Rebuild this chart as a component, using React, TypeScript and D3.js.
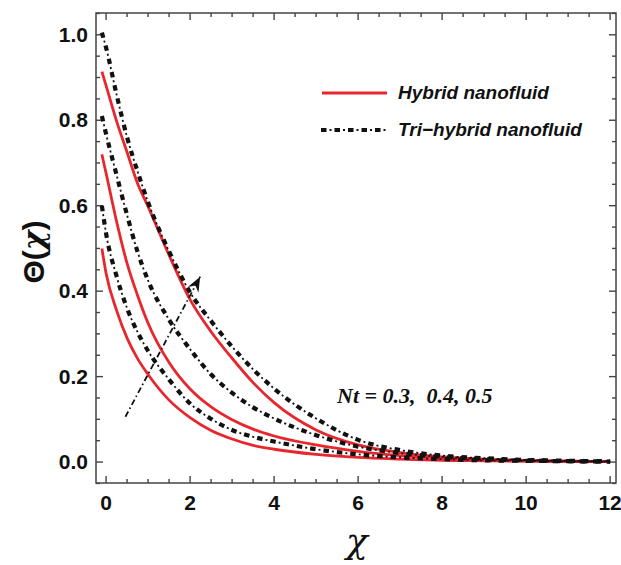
import React from 'react';
import * as d3 from 'd3';

// x positions where the curves were read
const xs = [-0.1, 0, 0.25, 0.5, 0.75, 1, 1.5, 2, 2.5, 3, 3.5, 4, 5, 6, 7, 8, 9, 10, 11, 12];

// Hybrid nanofluid, Nt = 0.3, 0.4, 0.5 (bottom to top)
const hybrid03 = [0.5, 0.442, 0.355, 0.29, 0.242, 0.205, 0.145, 0.104, 0.074, 0.054, 0.039, 0.03, 0.018, 0.011, 0.007, 0.004, 0.003, 0.002, 0.001, 0.001];
const hybrid04 = [0.72, 0.676, 0.563, 0.465, 0.39, 0.325, 0.233, 0.171, 0.129, 0.099, 0.077, 0.061, 0.04, 0.025, 0.015, 0.009, 0.005, 0.003, 0.002, 0.001];
const hybrid05 = [0.914, 0.881, 0.798, 0.725, 0.652, 0.598, 0.484, 0.38, 0.305, 0.243, 0.186, 0.139, 0.075, 0.04, 0.022, 0.012, 0.007, 0.004, 0.002, 0.001];

// Tri-hybrid nanofluid, Nt = 0.3, 0.4, 0.5
const tri03 = [0.6, 0.535, 0.435, 0.36, 0.304, 0.26, 0.193, 0.137, 0.101, 0.075, 0.059, 0.048, 0.03, 0.018, 0.011, 0.007, 0.004, 0.003, 0.002, 0.001];
const tri04 = [0.81, 0.768, 0.672, 0.578, 0.492, 0.425, 0.333, 0.264, 0.205, 0.162, 0.128, 0.102, 0.063, 0.036, 0.021, 0.012, 0.007, 0.004, 0.002, 0.001];
const tri05 = [1.005, 0.97, 0.86, 0.76, 0.68, 0.608, 0.493, 0.397, 0.33, 0.27, 0.217, 0.172, 0.102, 0.052, 0.028, 0.015, 0.009, 0.005, 0.003, 0.002];

const xTicks = [0, 2, 4, 6, 8, 10, 12];
const yTicks = [0, 0.2, 0.4, 0.6, 0.8, 1.0];

// arrow showing increasing Nt (from, to)
const arrowFrom = [0.46, 0.106];
const arrowTo = [2.24, 0.434];

const W = 621;
const H = 565;
const margin = { top: 13, right: 5, bottom: 82, left: 96 };

const RED = '#e8262d';
const INK = '#111';

export default function App() {
  const x = d3.scaleLinear().domain([-0.24, 12.14]).range([margin.left, W - margin.right]);
  const y = d3.scaleLinear().domain([-0.049, 1.051]).range([H - margin.bottom, margin.top]);

  const line = (vals: number[]) =>
    d3.line<number>()
      .x((_, i) => x(xs[i]))
      .y(d => y(d))
      .curve(d3.curveMonotoneX)(vals) || '';

  const x0 = margin.left, x1 = W - margin.right;
  const y0 = H - margin.bottom, y1 = margin.top;

  const xMinor = d3.range(0, 12.01, 0.5);
  const yMinor = d3.range(-0.05, 1.051, 0.05).map(v => Math.round(v * 100) / 100);

  // thick dash + small dot, like Mathematica's DotDashed
  const triDash = (d: string, key: string) => (
    <g key={key}>
      <path d={d} fill="none" stroke={INK} strokeWidth={4.2} strokeDasharray="5.5 8" />
      <path d={d} fill="none" stroke={INK} strokeWidth={1.8} strokeDasharray="2 11.5" strokeDashoffset={-8.5} />
    </g>
  );

  return (
    <svg width={W} height={H} style={{ position: 'absolute', left: 0, top: 0, background: '#fff' }}>
      <defs>
        <clipPath id="plot">
          <rect x={x0} y={y1} width={x1 - x0} height={y0 - y1} />
        </clipPath>
        <marker id="head" viewBox="-16 -8 18 16" refX={0} refY={0} markerWidth={18} markerHeight={16}
          markerUnits="userSpaceOnUse" orient="auto">
          <path d="M0,0 L-15,-6 L-10,0 L-15,6 Z" fill={INK} />
        </marker>
      </defs>

      {/* ticks */}
      <g stroke="#444" strokeWidth={1.4}>
        {xMinor.map(t => {
          const len = Math.abs(t % 2) < 1e-6 ? 7 : 4;
          return (
            <g key={'xt' + t}>
              <line x1={x(t)} x2={x(t)} y1={y0} y2={y0 - len} />
              <line x1={x(t)} x2={x(t)} y1={y1} y2={y1 + len} />
            </g>
          );
        })}
        {yMinor.map(t => {
          const len = Math.abs(Math.round(t * 100) % 20) < 1e-6 ? 7 : 4;
          return (
            <g key={'yt' + t}>
              <line x1={x0} x2={x0 + len} y1={y(t)} y2={y(t)} />
              <line x1={x1} x2={x1 - len} y1={y(t)} y2={y(t)} />
            </g>
          );
        })}
      </g>

      {/* curves */}
      <g clipPath="url(#plot)">
        {[hybrid03, hybrid04, hybrid05].map((v, i) => (
          <path key={'h' + i} d={line(v)} fill="none" stroke={RED} strokeWidth={2.8} />
        ))}
        {[tri03, tri04, tri05].map((v, i) => triDash(line(v), 't' + i))}
      </g>

      {/* arrow */}
      <line x1={x(arrowFrom[0])} y1={y(arrowFrom[1])} x2={x(arrowTo[0])} y2={y(arrowTo[1])}
        stroke={INK} strokeWidth={1.8} strokeDasharray="6 3 1.5 3" markerEnd="url(#head)" />

      {/* frame */}
      <rect x={x0} y={y1} width={x1 - x0} height={y0 - y1} fill="none" stroke="#444" strokeWidth={1.5} />

      {/* tick labels */}
      <g fontFamily="Liberation Sans, Arial, sans-serif" fontWeight="bold" fontSize={21} fill={INK}>
        {xTicks.map(t => (
          <text key={'xl' + t} x={x(t)} y={510} textAnchor="middle">{t}</text>
        ))}
        {yTicks.map(t => (
          <text key={'yl' + t} x={88} y={y(t) + 7} textAnchor="end">{t.toFixed(1)}</text>
        ))}
      </g>

      {/* axis titles */}
      <text x={357} y={553} textAnchor="middle" fontFamily="DejaVu Serif, serif" fontStyle="italic"
        fontSize={36} fill={INK}>χ</text>
      <text transform="translate(44,252) rotate(-90)" textAnchor="middle"
        fontFamily="Liberation Sans, Arial, sans-serif" fontWeight="bold" fontSize={30} fill={INK}>
        Θ(<tspan fontStyle="italic" fontFamily="DejaVu Serif, serif">χ</tspan>)
      </text>

      {/* legend */}
      <line x1={322} x2={387} y1={93} y2={93} stroke={RED} strokeWidth={3} />
      {triDash('M321,130 L386,130', 'lg')}
      <g fontFamily="Liberation Sans, Arial, sans-serif" fontWeight="bold" fontStyle="italic" fontSize={19} fill={INK}>
        <text x={398} y={99}>Hybrid nanofluid</text>
        <text x={398} y={136}>Tri−hybrid nanofluid</text>
      </g>

      {/* annotation */}
      <text x={337} y={403} fontFamily="Liberation Serif, Times New Roman, serif" fontWeight="bold"
        fontStyle="italic" fontSize={22} fill={INK} xmlSpace="preserve">Nt = 0.3,  0.4, 0.5</text>
    </svg>
  );
}
